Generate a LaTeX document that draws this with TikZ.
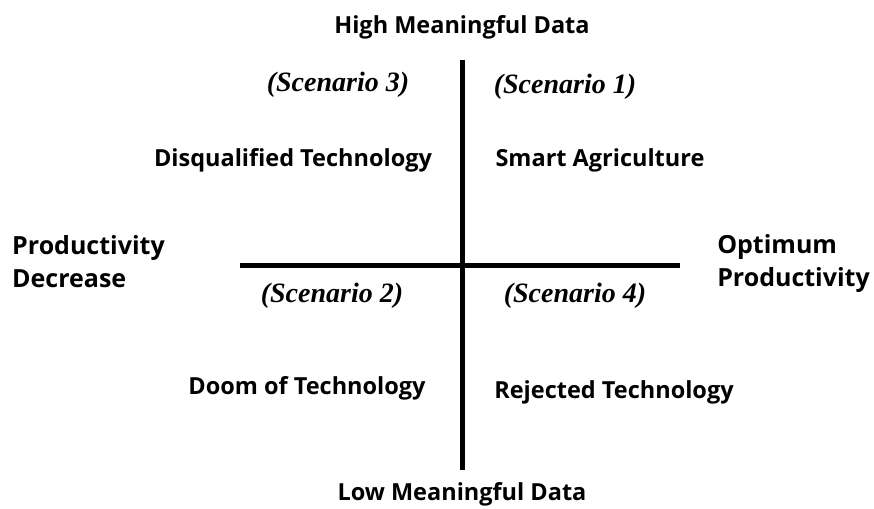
\documentclass[tikz,border=0pt]{standalone}
\usepackage{fontspec}
\setmainfont{Open Sans}
\newfontfamily\scenfont{Liberation Serif}
\usepackage{tikz}

\begin{document}
\begin{tikzpicture}[x=1pt,y=-1pt,
	lbl/.style={font=\fontsize{23.5}{28}\selectfont\bfseries, align=left, inner sep=0pt},
	side/.style={font=\fontsize{25}{33}\selectfont\bfseries, align=left, inner sep=0pt},
	scen/.style={font=\fontsize{28}{30}\scenfont\bfseries\itshape, inner sep=0pt}]
	\useasboundingbox (0,0) rectangle (874,508);
	% axes
	\coordinate (top) at (462,60);
	\coordinate (bot) at (462,470);
	\coordinate (left) at (240,265);
	\coordinate (right) at (680,265);
	\draw [line width=5pt] (top) -- (bot);
	\draw [line width=5pt] (left) -- (right);
	% axis labels
	\node [lbl] (high) at (462,27) {High Meaningful Data};
	\node [lbl] (low) at (462,494) {Low Meaningful Data};
	\node [side, anchor=west] (dec) at (12,262) {Productivity\\Decrease};
	\node [side, anchor=east] (opt) at (870,264) {Optimum\\Productivity};
	% quadrants
	\node [scen] (s3) at (338,85) {(Scenario 3)};
	\node [scen] (s1) at (565,87) {(Scenario 1)};
	\node [scen] (s2) at (332,296) {(Scenario 2)};
	\node [scen] (s4) at (575,296) {(Scenario 4)};
	\node [lbl] (disq) at (293,160) {Disqualified Technology};
	\node [lbl] (smart) at (600,160) {Smart Agriculture};
	\node [lbl] (doom) at (307,388) {Doom of Technology};
	\node [lbl] (rej) at (614,392) {Rejected Technology};
\end{tikzpicture}
\end{document}
